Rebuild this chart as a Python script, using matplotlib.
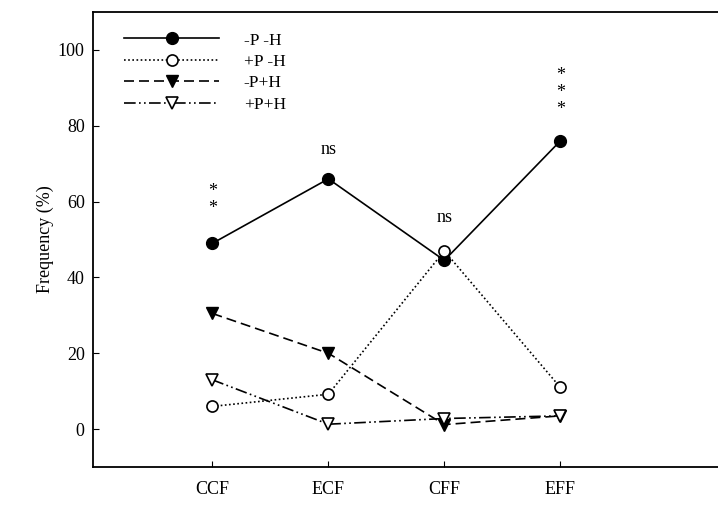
import numpy as np
import matplotlib
matplotlib.use("Agg")
import matplotlib.pyplot as plt

plt.rcParams['font.family'] = ['Liberation Serif', 'DejaVu Serif']

# data
groups = ["CCF", "ECF", "CFF", "EFF"]
pm_hm = [49, 66, 44.5, 76]      # -P -H
pp_hm = [6, 9.2, 47, 11]        # +P -H
pm_hp = [30.5, 20, 1.2, 3.5]    # -P+H
pp_hp = [13, 1.3, 2.8, 3.5]     # +P+H
labels = ["-P -H", "+P -H", "-P+H", "+P+H"]
signif = ["*\n*", "ns", "ns", "*\n*\n*"]
signif_y = [56, 71.6, 53.5, 82]

x = np.arange(len(groups))

fig = plt.figure(figsize=(7.18, 5.11), dpi=100)
ax = fig.add_axes([0.1295, 0.086, 0.8705, 0.8905])

lw = 1.2
ax.plot(x, pm_hm, color="black", lw=lw, ls="-", marker="o", ms=8.5,
        mfc="black", mec="black", label=labels[0])
ax.plot(x, pp_hm, color="black", lw=lw, ls=(0, (1, 1.5)), marker="o", ms=8,
        mfc="white", mec="black", mew=1.2, label=labels[1])
ax.plot(x, pm_hp, color="black", lw=lw, ls=(0, (6, 3)), marker="v", ms=8.5,
        mfc="black", mec="black", label=labels[2])
ax.plot(x, pp_hp, color="black", lw=lw, ls=(0, (7, 2, 1, 2, 1, 2)), marker="v", ms=8.5,
        mfc="white", mec="black", mew=1.2, label=labels[3])

for xi, s, yi in zip(x, signif, signif_y):
    ax.text(xi, yi, s, ha="center", va="bottom", fontsize=13, linespacing=1.0)

ax.set_xlim(-1.03, 4.36)
ax.set_ylim(-10, 110)
ax.set_xticks(x)
ax.set_xticklabels(groups)
ax.set_yticks([0, 20, 40, 60, 80, 100])
ax.tick_params(direction="in", length=4, labelsize=13, pad=10)
ax.tick_params(axis="y", pad=6)
ax.spines["right"].set_visible(False)
for sp in ["left", "bottom", "top"]:
    ax.spines[sp].set_linewidth(1.3)
ax.set_ylabel("Frequency (%)", fontsize=13, labelpad=3)

leg = ax.legend(loc="upper left", frameon=False, fontsize=12.5, handlelength=5.5,
                handletextpad=1.4, labelspacing=0.3, borderaxespad=0.3,
                bbox_to_anchor=(0.03, 0.982))

fig.savefig("out.png", dpi=100)
